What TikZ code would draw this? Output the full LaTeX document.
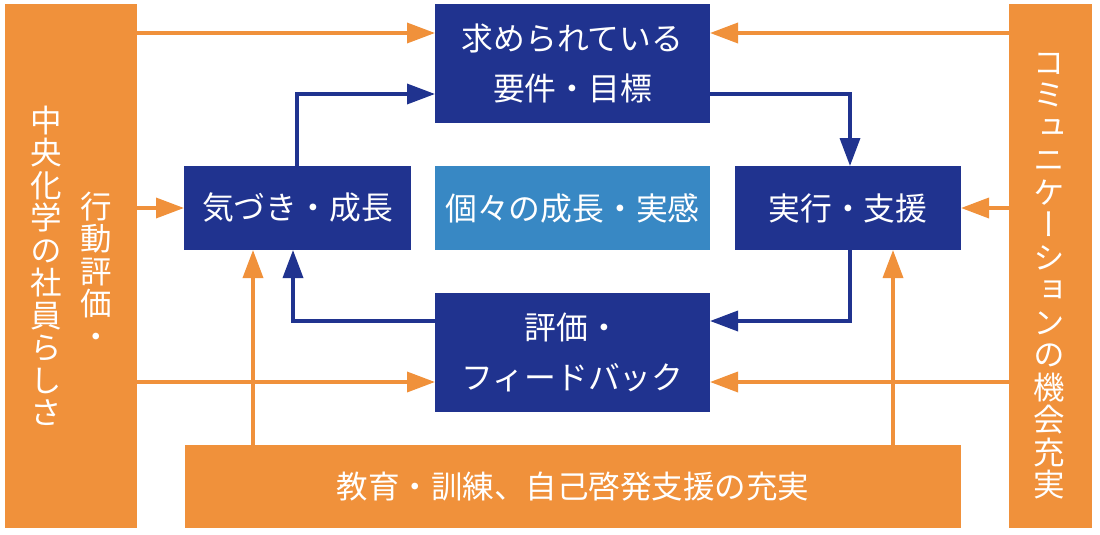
\documentclass[tikz,border=0pt]{standalone}
\usepackage{fontspec}
\setmainfont{Noto Sans CJK JP}
\newfontfamily\vjp[RawFeature=+vert]{Noto Sans CJK JP}
\usetikzlibrary{arrows.meta}
\definecolor{cor}{HTML}{F0913B}
\definecolor{cbl}{HTML}{20338F}
\definecolor{clb}{HTML}{3888C4}
\begin{document}
\begin{tikzpicture}[x=1pt,y=-1pt,
  box/.style={rectangle, fill=cbl, text=white, inner sep=0pt, outer sep=0pt, font=\fontsize{31.8}{50}\selectfont, align=center},
  obox/.style={rectangle, fill=cor, text=white, inner sep=0pt, outer sep=0pt, font=\fontsize{31.5}{50}\selectfont},
  oarr/.style={draw=cor, line width=3.5pt, -{Triangle[length=28pt,width=20pt]}},
  barr/.style={draw=cbl, line width=3.5pt, -{Triangle[length=28pt,width=20pt]}},
  vtext/.style={text=white, inner sep=0pt, align=center, font=\vjp\fontsize{31.5}{32.5}\selectfont}]
\useasboundingbox (0,0) rectangle (1100,535);
% bars
\node[obox, minimum width=132pt, minimum height=524pt] (lbar) at (71,266) {};
\node[obox, minimum width=83pt, minimum height=524pt] (rbar) at (1050.5,266) {};
\node[obox, minimum width=776pt, minimum height=83pt] (bot) at (573,486.5) {教育・訓練、自己啓発支援の充実};
% boxes
\node[box, minimum width=275pt, minimum height=119pt] (top) at (572.5,63.5) {求められている\\要件・目標};
\node[box, minimum width=227pt, minimum height=84pt] (kiz) at (297.5,208) {気づき・成長};
\node[box, fill=clb, minimum width=275pt, minimum height=84pt] (koko) at (572.5,208) {個々の成長・実感};
\node[box, minimum width=226pt, minimum height=84pt] (jik) at (848,208) {実行・支援};
\node[box, minimum width=275pt, minimum height=119pt] (hyo) at (572.5,352.5) {評価・\\フィードバック};
% vertical texts
\node[vtext] (lt2) at (96,270) {行\\動\\評\\価\\・};
\node[vtext] (lt1) at (46,266) {中\\央\\化\\学\\の\\社\\員\\ら\\し\\さ};
\node[vtext] (rt) at (1049,276) {コ\\ミ\\ュ\\ニ\\ケ\\ー\\シ\\ョ\\ン\\の\\機\\会\\充\\実};
% helper coordinates
\coordinate (yA) at (0,33);
\coordinate (yB) at (0,208);
\coordinate (yC) at (0,382);
\coordinate (yD) at (0,94);
\coordinate (yE) at (0,321);
\coordinate (xL) at (253,0);
\coordinate (xR) at (893,0);
\coordinate (xB1) at (297,0);
\coordinate (xB2) at (850,0);
\coordinate (xB3) at (293,0);
% orange arrows
\draw[oarr] (lbar.east |- yA) -- (top.west |- yA);
\draw[oarr] (lbar.east |- yB) -- (kiz.west |- yB);
\draw[oarr] (lbar.east |- yC) -- (hyo.west |- yC);
\draw[oarr] (rbar.west |- yA) -- (top.east |- yA);
\draw[oarr] (rbar.west |- yB) -- (jik.east |- yB);
\draw[oarr] (rbar.west |- yC) -- (hyo.east |- yC);
\draw[oarr] (bot.north -| xL) -- (kiz.south -| xL);
\draw[oarr] (bot.north -| xR) -- (jik.south -| xR);
% blue arrows
\draw[barr] (kiz.north -| xB1) |- (top.west |- yD);
\draw[barr] (top.east |- yD) -| (jik.north -| xB2);
\draw[barr] (jik.south -| xB2) |- (hyo.east |- yE);
\draw[barr] (hyo.west |- yE) -| (kiz.south -| xB3);
\end{tikzpicture}
\end{document}
